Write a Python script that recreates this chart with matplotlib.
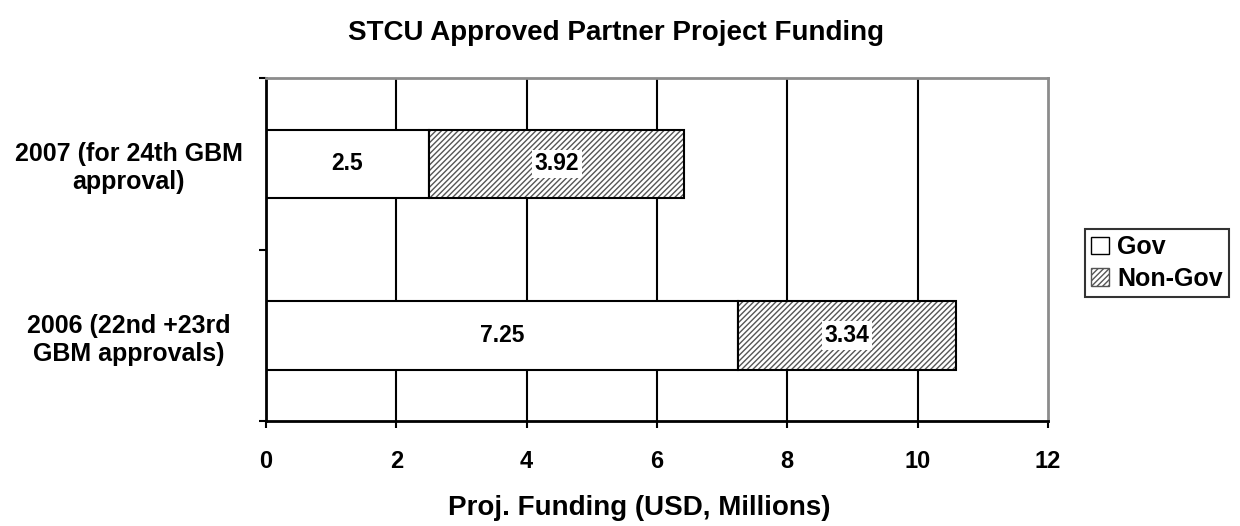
import matplotlib.pyplot as plt
from matplotlib.patches import Patch

plt.rcParams['font.family'] = ['Liberation Sans', 'DejaVu Sans']
plt.rcParams['font.weight'] = 'bold'
plt.rcParams['hatch.linewidth'] = 1.0

# data
categories = ['2006 (22nd +23rd\nGBM approvals)', '2007 (for 24th GBM\napproval)']
gov = [7.25, 2.5]
non_gov = [3.34, 3.92]
series_names = ['Gov', 'Non-Gov']
xticks = [0, 2, 4, 6, 8, 10, 12]

fig = plt.figure(figsize=(12.4, 5.26), dpi=100)
ax = fig.add_axes([0.2145, 0.1996, 0.6306, 0.652])

ypos = list(range(len(categories)))
h = 0.4

# grid behind bars
for x in xticks[1:-1]:
    ax.axvline(x, color='black', lw=1.5, zorder=0)

ax.barh(ypos, gov, height=h, color='white', edgecolor='black', lw=1.5, zorder=2)
# hatch in grey, outline in black drawn separately
ax.barh(ypos, non_gov, left=gov, height=h, color='white', edgecolor='#555555',
        hatch='//////', lw=0, zorder=2)
ax.barh(ypos, non_gov, left=gov, height=h, fill=False, edgecolor='black',
        lw=1.5, zorder=3)

for i in ypos:
    ax.text(gov[i] / 2, i, str(gov[i]), ha='center', va='center',
            fontsize=16.5, fontweight='bold', zorder=4)
    ax.text(gov[i] + non_gov[i] / 2, i, f'{non_gov[i]:.2f}', ha='center',
            va='center', fontsize=16.5, fontweight='bold', zorder=4,
            bbox=dict(facecolor='white', edgecolor='none', pad=2))

ax.set_xlim(0, 12)
ax.set_ylim(-0.5, 1.5)
ax.set_xticks(xticks)
ax.set_xticklabels([str(t) for t in xticks], fontsize=17, fontweight='bold')
ax.tick_params(axis='x', direction='out', length=5, width=1.5, pad=16)

ax.set_yticks([-0.5, 0.5, 1.5])
ax.set_yticklabels([])
ax.tick_params(axis='y', which='major', direction='out', length=5, width=1.5)
ax.set_yticks(ypos, minor=True)
ax.set_yticklabels(categories, minor=True, fontsize=18, fontweight='bold',
                   ha='center', multialignment='center')
ax.tick_params(axis='y', which='minor', length=0, pad=99)

for s in ['left', 'bottom']:
    ax.spines[s].set_color('black')
    ax.spines[s].set_linewidth(2)
for s in ['top', 'right']:
    ax.spines[s].set_color('#8c8c8c')
    ax.spines[s].set_linewidth(2)

ax.set_xlabel('Proj. Funding (USD, Millions)', fontsize=20, fontweight='bold')
ax.xaxis.set_label_coords(0.478, -0.216)
fig.text(0.497, 0.938, 'STCU Approved Partner Project Funding', ha='center',
         va='center', fontsize=20, fontweight='bold')

handles = [Patch(facecolor='white', edgecolor='black', label=series_names[0]),
           Patch(facecolor='white', edgecolor='#555555', hatch='//////',
                 label=series_names[1])]
leg = fig.legend(handles=handles, loc='center left', bbox_to_anchor=(0.875, 0.50),
                 fontsize=18, frameon=True, fancybox=False, edgecolor='black',
                 handlelength=0.7, handleheight=0.7, handletextpad=0.35,
                 borderpad=0.25, borderaxespad=0, labelspacing=0.3)
leg.get_frame().set_linewidth(1.5)
for t in leg.get_texts():
    t.set_fontweight('bold')

fig.savefig('out.png', dpi=100)
